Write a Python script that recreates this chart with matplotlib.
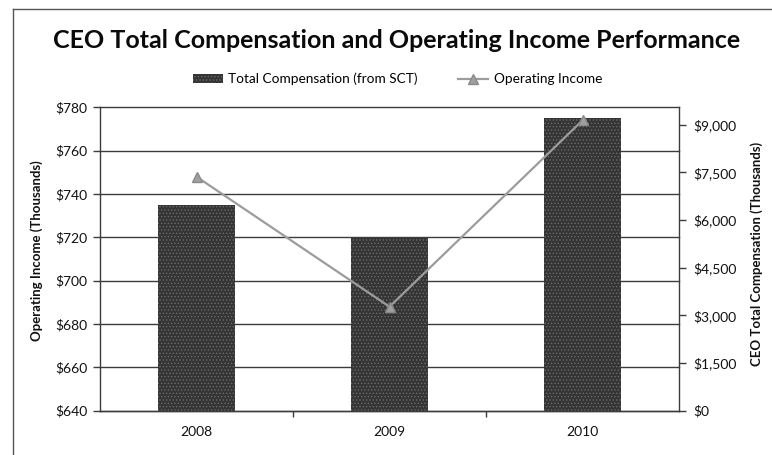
import matplotlib
matplotlib.use("Agg")
import matplotlib.pyplot as plt
from matplotlib.lines import Line2D
from matplotlib.patches import Patch
from matplotlib.ticker import FuncFormatter, FixedLocator

plt.rcParams['font.family'] = ['Lato', 'DejaVu Sans']
plt.rcParams['hatch.linewidth'] = 0.6

years = ['2008', '2009', '2010']
total_comp = [6460, 5440, 9200]          # CEO total compensation, $ thousands
operating_income = [748, 688, 774]       # operating income, $ thousands

left_ticks = [640, 660, 680, 700, 720, 740, 760, 780]
right_ticks = [0, 1500, 3000, 4500, 6000, 7500, 9000]

W, H = 772, 455
fig = plt.figure(figsize=(W / 100, H / 100), dpi=100)
fig.patch.set_facecolor('white')

ax = fig.add_axes([100 / W, 1 - 410.7 / H, 579 / W, 303.3 / H])
tw = ax.twinx()

# bars on the secondary (right) axis, drawn underneath the line
ax.set_zorder(2)
tw.set_zorder(1)
ax.patch.set_visible(False)

x = list(range(len(years)))
grid_col = '#3c3c3c'

# horizontal gridlines follow the left axis scale but sit under the bars
for v in left_ticks:
    tw.plot([0, 1], [v, v], transform=ax.get_yaxis_transform(),
            color=grid_col, lw=1.0, zorder=0.5, clip_on=False)

tw.bar(x, total_comp, width=0.40, color='#353535', edgecolor='#6a6a6a',
       linewidth=0, hatch='.....', zorder=2)

ax.plot(x, operating_income, color='#9c9c9c', lw=1.6, marker='^',
        markersize=7, markerfacecolor='#a0a0a0', markeredgecolor='#8a8a8a',
        zorder=3)

ax.set_xlim(-0.5, 2.5)
ax.set_ylim(640, 780)
tw.set_ylim(0, 9540)

ax.yaxis.set_major_locator(FixedLocator(left_ticks))
tw.yaxis.set_major_locator(FixedLocator(right_ticks))
ax.yaxis.set_major_formatter(FuncFormatter(lambda v, p: f'${v:,.0f}'))
tw.yaxis.set_major_formatter(FuncFormatter(lambda v, p: f'${v:,.0f}'))

ax.set_xticks(x)
ax.set_xticklabels(years)
ax.set_xticks([0.5, 1.5], minor=True)
ax.tick_params(axis='x', which='major', length=0, pad=11, labelsize=10,
               colors='#111111')
ax.tick_params(axis='x', which='minor', length=4, direction='out',
               color=grid_col, width=1)
ax.tick_params(axis='y', length=5, direction='out', width=1, color=grid_col,
               labelsize=10, labelcolor='#111111', pad=4)
tw.tick_params(axis='y', length=5, direction='out', width=1, color=grid_col,
               labelsize=10, labelcolor='#111111', pad=5)

for s in ['top', 'right']:
    ax.spines[s].set_visible(False)
for s in ['top', 'left', 'bottom']:
    tw.spines[s].set_visible(False)
ax.spines['left'].set_color(grid_col)
ax.spines['bottom'].set_color(grid_col)
tw.spines['right'].set_color(grid_col)
for sp in (ax.spines['left'], ax.spines['bottom'], tw.spines['right']):
    sp.set_linewidth(1.0)

ax.set_ylabel('Operating Income (Thousands)', fontsize=9.5, fontweight='bold',
              color='#111111')
ax.yaxis.set_label_coords((43 - 100) / 579, (410.7 - 251) / 303.3)
tw.set_ylabel('CEO Total Compensation (Thousands)', fontsize=9.5,
              fontweight='bold', color='#111111', rotation=90)
tw.yaxis.set_label_coords((750 - 100) / 579, (410.7 - 254) / 303.3)

fig.text(397 / W, 1 - 41 / H,
         'CEO Total Compensation and Operating Income Performance',
         ha='center', va='center', fontsize=18, fontweight='bold',
         color='#0a0a0a')

handles = [
    Patch(facecolor='#353535', edgecolor='#6a6a6a', hatch='.....', linewidth=0),
    Line2D([], [], color='#9c9c9c', lw=1.6, marker='^', markersize=7,
           markerfacecolor='#a0a0a0', markeredgecolor='#8a8a8a'),
]
fig.legend(handles, ['Total Compensation (from SCT)', 'Operating Income'],
           loc='center', bbox_to_anchor=(397.5 / W, 1 - 79 / H), ncol=2,
           frameon=False, fontsize=9.8, handlelength=2.2, columnspacing=3.0,
           handletextpad=0.4)

# chart area border (top and left edges)
fig.add_artist(Line2D([13 / W, 13 / W], [0, 1 - 9 / H], transform=fig.transFigure,
                      color='#555555', lw=1.0))
fig.add_artist(Line2D([13 / W, 1], [1 - 9 / H, 1 - 9 / H], transform=fig.transFigure,
                      color='#555555', lw=1.0))

fig.savefig('out.png', dpi=100)
